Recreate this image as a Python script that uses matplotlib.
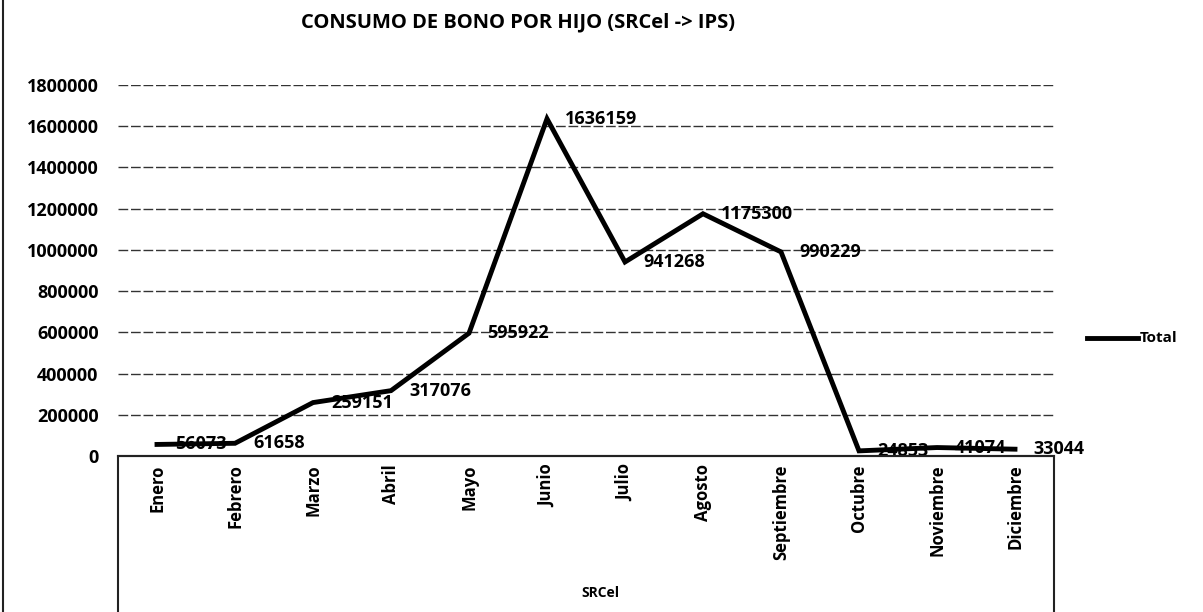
import matplotlib.pyplot as plt
from matplotlib.lines import Line2D
from matplotlib.patches import Rectangle

meses = ["Enero", "Febrero", "Marzo", "Abril", "Mayo", "Junio", "Julio",
         "Agosto", "Septiembre", "Octubre", "Noviembre", "Diciembre"]
total = [56073, 61658, 259151, 317076, 595922, 1636159, 941268,
         1175300, 990229, 24853, 41074, 33044]
yticks = list(range(0, 1800001, 200000))

plt.rcParams['font.family'] = ['Open Sans', 'DejaVu Sans']
fontsize = 13

fig = plt.figure(figsize=(12.03, 6.12), dpi=100)
ax = fig.add_axes([118/1203, 1 - 456/612, 936/1203, (456 - 85)/612])

x = list(range(len(meses)))
ax.plot(x, total, color='black', lw=3.5, solid_joinstyle='miter', zorder=3)
for xi, v in zip(x, total):
    ax.annotate(str(v), (xi, v), xytext=(13, 0), textcoords='offset points',
                ha='left', va='center', fontsize=fontsize, fontweight='bold',
                color='black', zorder=4)

ax.set_xlim(-0.5, len(meses) - 0.5)
ax.set_ylim(0, 1800000)
ax.set_yticks(yticks)
ax.set_yticklabels([str(t) for t in yticks], fontsize=fontsize, fontweight='bold')
ax.set_xticks(x)
ax.set_xticklabels(meses, rotation=90, fontsize=12, fontweight='bold', va='top')
ax.tick_params(axis='both', length=0)
ax.tick_params(axis='y', pad=14)
ax.tick_params(axis='x', pad=6)
ax.grid(axis='y', color='#333333', lw=1.0, linestyle=(0, (7, 2)))
ax.set_axisbelow(True)
for s in ['top', 'right', 'left']:
    ax.spines[s].set_visible(False)
ax.spines['bottom'].set_color('#222222')
ax.spines['bottom'].set_linewidth(1.5)

# category field box below the axis
fig.add_artist(Rectangle((118/1203, -0.05), 936/1203, 0.05 + (612 - 456)/612,
                         transform=fig.transFigure, fill=False,
                         edgecolor='#222222', lw=1.5))
fig.add_artist(Line2D([3/1203, 3/1203], [0, 1], transform=fig.transFigure,
                      color='#222222', lw=1.5))

fig.text(600/1203, 1 - 593/612, "SRCel", ha='center', va='center',
         fontsize=10, fontweight='bold')
fig.text(518/1203, 1 - 22/612, "CONSUMO DE BONO POR HIJO (SRCel -> IPS)",
         ha='center', va='center', fontsize=14.5, fontweight='bold')

# legend
fig.add_artist(Line2D([1087/1203, 1138/1203], [1 - 338/612, 1 - 338/612],
                      transform=fig.transFigure, color='black', lw=3.5))
fig.text(1140/1203, 1 - 338/612, "Total", ha='left', va='center',
         fontsize=11, fontweight='bold')

plt.savefig('out.png', dpi=100)
